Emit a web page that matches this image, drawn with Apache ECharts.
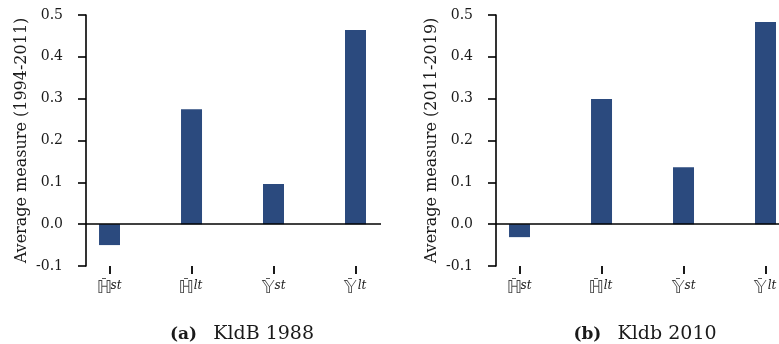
<!DOCTYPE html>
<html>
<head>
<meta charset="utf-8">
<style>
  html, body { margin: 0; padding: 0; background: #ffffff; }
  #chart { width: 779px; height: 344px; }
</style>
<script src="https://cdn.jsdelivr.net/npm/echarts@6/dist/echarts.min.js"></script>
</head>
<body>
<div id="chart"></div>
<script>
// Measures shown on the horizontal axis (symbol, superscript)
const measures = [
  ['\u210D', 'st'],
  ['\u210D', 'lt'],
  ['\uD835\uDD50', 'st'],
  ['\uD835\uDD50', 'lt']
];
// Average measure per classification
const kldb1988 = [-0.05, 0.275, 0.096, 0.464];
const kldb2010 = [-0.031, 0.299, 0.136, 0.483];
// Panel captions and axis titles
const captions = [['(a)', 'KldB 1988'], ['(b)', 'Kldb 2010']];
const yTitles = ['Average measure (1994-2011)', 'Average measure (2011-2019)'];
const yTicks = { min: -0.1, max: 0.5, step: 0.1 };

const BAR = '#2b4a7e';
const INK = '#1a1a1a';
const SERIF = '"DejaVu Serif", serif';
const xMin = -0.287, xMax = 3.311;
const positions = measures.map((_, i) => i);

const chart = echarts.init(document.getElementById('chart'), null, { renderer: 'canvas' });

const grids = [
  { left: 86, top: 15, width: 295, height: 251, outerBoundsMode: 'none' },
  { left: 496, top: 15, width: 295, height: 251, outerBoundsMode: 'none' }
];

// symbol with a short bar above it and a superscript to its right
const SYM_W = 13, SUP_W = 11;
const labelRich = {
  bar: { fontFamily: '"DejaVu Sans", sans-serif', fontSize: 10, color: '#222', width: SYM_W, align: 'center', lineHeight: 4 },
  gap: { fontSize: 10, width: SUP_W, lineHeight: 4 },
  m: { fontFamily: '"DejaVu Sans", sans-serif', fontSize: 18, color: '#444', width: SYM_W, lineHeight: 17, verticalAlign: 'bottom' },
  s: { fontFamily: SERIF, fontSize: 12, fontStyle: 'italic', color: INK, width: SUP_W, lineHeight: 3, verticalAlign: 'top' }
};

const xAxes = [];
const yAxes = [];
const series = [];
const titles = [];
[kldb1988, kldb2010].forEach((vals, g) => {
  // measure labels
  xAxes.push({
    type: 'value', gridIndex: g, min: xMin, max: xMax, position: 'bottom',
    axisLine: { show: false, onZero: false },
    axisTick: { show: false },
    axisLabel: {
      show: true, customValues: positions, margin: 10,
      formatter: v => {
        const m = measures[Math.round(v)];
        return '{bar|\u2013}{gap| }\n{m|' + m[0] + '}{s|' + m[1] + '}';
      },
      rich: labelRich
    },
    splitLine: { show: false }
  });
  // measure ticks
  xAxes.push({
    type: 'value', gridIndex: g, min: xMin, max: xMax, position: 'bottom',
    axisLine: { show: false, onZero: false },
    axisTick: { show: true, customValues: positions, length: 8, lineStyle: { color: '#000', width: 1.8 } },
    axisLabel: { show: false },
    splitLine: { show: false }
  });
  yAxes.push({
    type: 'value', gridIndex: g, min: yTicks.min, max: yTicks.max, interval: yTicks.step,
    name: yTitles[g], nameLocation: 'middle', nameGap: 56,
    nameTextStyle: { fontFamily: SERIF, fontSize: 16, color: INK },
    axisLine: { show: true, onZero: false, lineStyle: { color: '#000', width: 1.6 } },
    axisTick: { show: true, length: 8, lineStyle: { color: '#000', width: 1.6 } },
    axisLabel: { fontFamily: SERIF, fontSize: 14, color: INK, margin: 23,
      formatter: v => (Math.abs(v) < 1e-9 ? 0 : v).toFixed(1) },
    splitLine: { show: false }
  });
  series.push({
    type: 'bar', xAxisIndex: g * 2, yAxisIndex: g,
    barWidth: 21, itemStyle: { color: BAR },
    data: vals.map((v, i) => [i, v]),
    // zero line across the plot
    markLine: {
      silent: true, symbol: 'none', label: { show: false },
      lineStyle: { color: '#000', width: 1.6, type: 'solid' },
      data: [{ yAxis: 0 }]
    }
  });
  titles.push({
    text: '{b|' + captions[g][0] + '}   {r|' + captions[g][1] + '}',
    left: g === 0 ? 237 : 640, top: 320, textAlign: 'center',
    textStyle: {
      fontWeight: 'normal', fontFamily: SERIF, fontSize: 17, color: INK,
      rich: {
        b: { fontFamily: SERIF, fontSize: 17, fontWeight: 'bold', color: INK },
        r: { fontFamily: SERIF, fontSize: 19, fontWeight: 'normal', color: INK }
      }
    }
  });
});

chart.setOption({
  animation: false,
  title: titles,
  grid: grids,
  xAxis: xAxes,
  yAxis: yAxes,
  series: series
});
</script>
</body>
</html>
